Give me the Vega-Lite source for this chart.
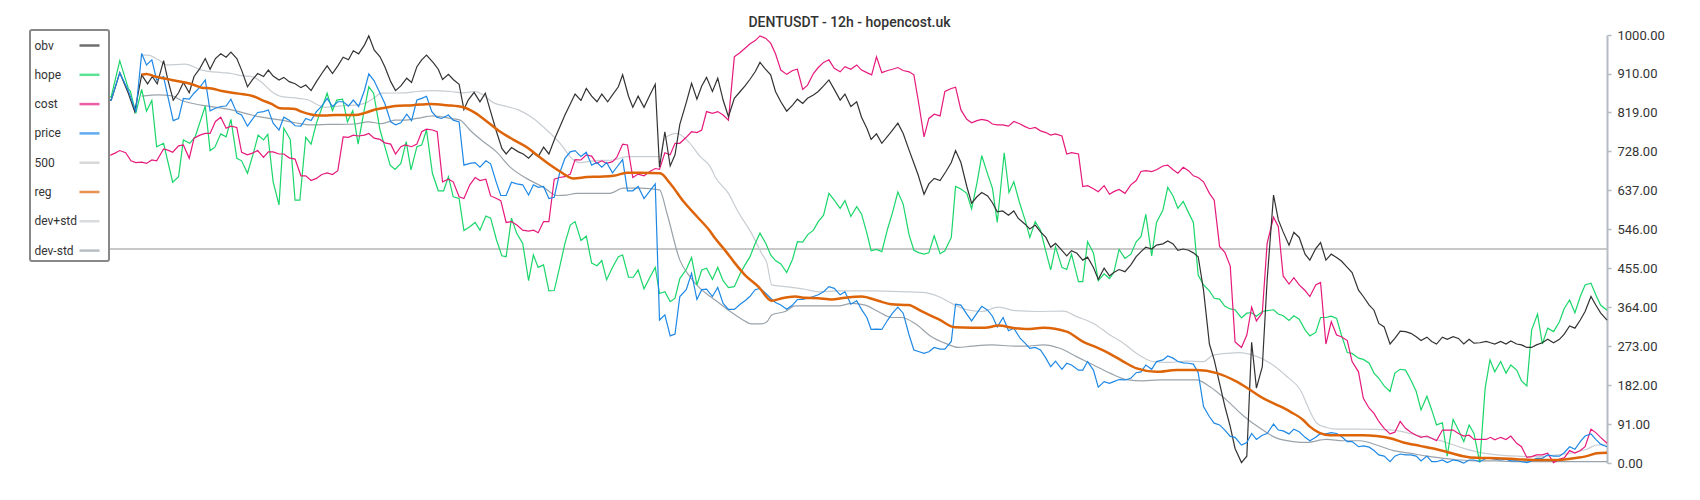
{
  "$schema": "https://vega.github.io/schema/vega-lite/v6.json",
  "autosize": {"type": "none"},
  "width": 1507,
  "height": 428,
  "padding": {"left": 100, "top": 35, "right": 93, "bottom": 37},
  "background": "white",
  "title": {"text": "DENTUSDT - 12h - hopencost.uk", "font": "Roboto", "fontSize": 14, "fontWeight": 500, "color": "#333333", "anchor": "middle", "frame": "group", "baseline": "alphabetic", "offset": 10, "dx": -4, "dy": 22},
  "config": {
    "view": {"stroke": null},
    "legend": {"orient": "none", "legendX": -70, "legendY": -5, "title": null, "fillColor": "white", "strokeColor": "#888888", "strokeWidth": 2, "cornerRadius": 2, "padding": 4, "labelFont": "Roboto", "labelFontSize": 12, "labelColor": "#333333", "symbolType": "stroke", "symbolStrokeWidth": 2.5, "symbolSize": 400, "symbolOpacity": 0.7, "rowPadding": 11.3, "labelOffset": -66.5, "symbolOffset": 44}
  },
  "datasets": {
    "c500": [{"t": 0, "v": 500}, {"t": 282, "v": 500}],
    "obv": [{"t":0,"v":850},{"t":2.1,"v":848},{"t":3.7,"v":912},{"t":5.3,"v":864},{"t":6.5,"v":821},{"t":7.8,"v":907},{"t":8.9,"v":886},{"t":9.8,"v":903},{"t":10.7,"v":886},{"t":11.9,"v":940},{"t":12.7,"v":895},{"t":13.7,"v":848},{"t":14.7,"v":865},{"t":15.6,"v":889},{"t":16.7,"v":865},{"t":17.6,"v":903},{"t":18.7,"v":922},{"t":19.7,"v":945},{"t":20.6,"v":920},{"t":21.6,"v":945},{"t":22.6,"v":956},{"t":23.6,"v":948},{"t":24.5,"v":960},{"t":25.6,"v":945},{"t":26.5,"v":918},{"t":27.6,"v":879},{"t":28.5,"v":895},{"t":29.5,"v":910},{"t":30.6,"v":903},{"t":31.5,"v":918},{"t":32.4,"v":904},{"t":33.5,"v":895},{"t":34.4,"v":901},{"t":35.4,"v":891},{"t":36.5,"v":886},{"t":37.6,"v":877},{"t":38.5,"v":883},{"t":39.5,"v":870},{"t":40.5,"v":891},{"t":41.5,"v":910},{"t":42.5,"v":928},{"t":43.5,"v":910},{"t":44.5,"v":928},{"t":45.5,"v":948},{"t":46.5,"v":942},{"t":47.4,"v":963},{"t":48.4,"v":956},{"t":49.5,"v":977},{"t":50.3,"v":998},{"t":51.3,"v":965},{"t":52.4,"v":949},{"t":53.3,"v":926},{"t":54.4,"v":891},{"t":55.3,"v":870},{"t":56.3,"v":881},{"t":57.4,"v":899},{"t":58.3,"v":889},{"t":59.3,"v":926},{"t":60.2,"v":942},{"t":61.1,"v":953},{"t":62.4,"v":935},{"t":63.3,"v":920},{"t":64.1,"v":896},{"t":65.2,"v":908},{"t":66.1,"v":896},{"t":67.2,"v":885},{"t":68.1,"v":826},{"t":68.9,"v":848},{"t":70,"v":866},{"t":71.1,"v":844},{"t":72.1,"v":864},{"t":73,"v":825},{"t":74.2,"v":774},{"t":75.2,"v":735},{"t":76,"v":722},{"t":77,"v":737},{"t":78.3,"v":727},{"t":79.2,"v":722},{"t":80.2,"v":712},{"t":81.1,"v":724},{"t":82,"v":716},{"t":83,"v":738},{"t":84,"v":722},{"t":85.2,"v":761},{"t":86.1,"v":787},{"t":87,"v":813},{"t":88,"v":839},{"t":88.9,"v":862},{"t":90,"v":847},{"t":91,"v":875},{"t":92,"v":857},{"t":93,"v":844},{"t":93.9,"v":862},{"t":95,"v":844},{"t":95.9,"v":860},{"t":97,"v":879},{"t":97.8,"v":907},{"t":98.9,"v":857},{"t":99.7,"v":831},{"t":100.7,"v":857},{"t":101.8,"v":831},{"t":102.9,"v":860},{"t":103.9,"v":885},{"t":104.7,"v":691},{"t":105.7,"v":774},{"t":106.7,"v":694},{"t":107.6,"v":720},{"t":108.5,"v":791},{"t":109.7,"v":842},{"t":110.7,"v":887},{"t":111.7,"v":850},{"t":112.6,"v":881},{"t":113.5,"v":901},{"t":114.6,"v":868},{"t":115.6,"v":899},{"t":116.6,"v":848},{"t":117.6,"v":809},{"t":118.7,"v":852},{"t":119.8,"v":868},{"t":120.7,"v":881},{"t":121.6,"v":896},{"t":122.6,"v":914},{"t":123.5,"v":936},{"t":124.4,"v":922},{"t":125.5,"v":907},{"t":126.4,"v":868},{"t":127.4,"v":844},{"t":128.5,"v":822},{"t":129.6,"v":836},{"t":130.5,"v":850},{"t":131.5,"v":840},{"t":132.4,"v":852},{"t":133.5,"v":860},{"t":134.4,"v":868},{"t":135.4,"v":881},{"t":136.4,"v":895},{"t":137.4,"v":873},{"t":138.5,"v":848},{"t":139.4,"v":862},{"t":140.5,"v":833},{"t":141.6,"v":844},{"t":142.5,"v":808},{"t":143.5,"v":782},{"t":144.3,"v":756},{"t":145.3,"v":769},{"t":146.3,"v":747},{"t":147.4,"v":764},{"t":148.3,"v":778},{"t":149.3,"v":794},{"t":150.3,"v":770},{"t":151.4,"v":731},{"t":152.2,"v":704},{"t":153.1,"v":673},{"t":154.2,"v":628},{"t":155.1,"v":652},{"t":156.1,"v":665},{"t":157.2,"v":660},{"t":158.3,"v":681},{"t":159.3,"v":702},{"t":160.1,"v":730},{"t":161.1,"v":702},{"t":162.2,"v":646},{"t":163.1,"v":607},{"t":164.1,"v":622},{"t":165,"v":632},{"t":166.1,"v":624},{"t":167,"v":608},{"t":167.9,"v":587},{"t":168.9,"v":589},{"t":170,"v":579},{"t":171,"v":589},{"t":171.8,"v":572},{"t":173.1,"v":558},{"t":174,"v":547},{"t":175,"v":556},{"t":176,"v":540},{"t":177,"v":527},{"t":177.9,"v":504},{"t":178.8,"v":513},{"t":180,"v":497},{"t":180.9,"v":484},{"t":181.8,"v":496},{"t":182.8,"v":490},{"t":183.9,"v":474},{"t":184.8,"v":481},{"t":185.9,"v":457},{"t":186.8,"v":429},{"t":187.9,"v":455},{"t":188.9,"v":437},{"t":189.7,"v":445},{"t":190.7,"v":452},{"t":191.8,"v":447},{"t":192.9,"v":463},{"t":193.9,"v":482},{"t":194.8,"v":494},{"t":195.7,"v":504},{"t":196.8,"v":500},{"t":197.7,"v":509},{"t":198.9,"v":512},{"t":199.8,"v":519},{"t":200.8,"v":512},{"t":201.7,"v":497},{"t":202.7,"v":500},{"t":203.7,"v":497},{"t":204.6,"v":491},{"t":205.5,"v":482},{"t":206.5,"v":404},{"t":207.6,"v":278},{"t":208.5,"v":241},{"t":209.5,"v":186},{"t":210.5,"v":132},{"t":211.5,"v":85},{"t":212.4,"v":34},{"t":213.6,"v":1},{"t":214.6,"v":16},{"t":215.5,"v":282},{"t":216.4,"v":175},{"t":217.5,"v":225},{"t":218.4,"v":427},{"t":219.6,"v":626},{"t":220.5,"v":568},{"t":221.4,"v":540},{"t":222.5,"v":509},{"t":223.4,"v":539},{"t":224.4,"v":527},{"t":225.5,"v":488},{"t":226.4,"v":474},{"t":227.5,"v":501},{"t":228.4,"v":515},{"t":229.4,"v":474},{"t":230.4,"v":488},{"t":231.4,"v":480},{"t":232.3,"v":472},{"t":233.4,"v":457},{"t":234.3,"v":445},{"t":235.5,"v":404},{"t":236.4,"v":389},{"t":237.5,"v":369},{"t":238.4,"v":357},{"t":239.3,"v":326},{"t":240.3,"v":318},{"t":241.4,"v":278},{"t":242.3,"v":291},{"t":243.3,"v":308},{"t":244.3,"v":307},{"t":245.3,"v":303},{"t":246.3,"v":295},{"t":247.2,"v":286},{"t":248.3,"v":294},{"t":249.2,"v":284},{"t":250.1,"v":278},{"t":251.2,"v":294},{"t":252.1,"v":289},{"t":253.2,"v":295},{"t":254.2,"v":291},{"t":255.2,"v":278},{"t":256.2,"v":289},{"t":257.1,"v":280},{"t":258.2,"v":281},{"t":259.4,"v":284},{"t":260.2,"v":281},{"t":261,"v":278},{"t":262.1,"v":284},{"t":263.1,"v":278},{"t":264,"v":285},{"t":265.1,"v":278},{"t":266,"v":276},{"t":267,"v":270},{"t":267.9,"v":270},{"t":268.8,"v":276},{"t":269.9,"v":281},{"t":270.9,"v":289},{"t":272,"v":281},{"t":273.1,"v":289},{"t":274,"v":301},{"t":275,"v":320},{"t":276,"v":315},{"t":277,"v":334},{"t":277.9,"v":354},{"t":279,"v":389},{"t":279.9,"v":369},{"t":280.8,"v":351},{"t":282,"v":334}],
    "hope": [{"t":0,"v":850},{"t":2.1,"v":856},{"t":3.7,"v":940},{"t":5.3,"v":875},{"t":5.7,"v":868},{"t":6.7,"v":817},{"t":7.8,"v":873},{"t":8.7,"v":822},{"t":9.7,"v":847},{"t":10.6,"v":739},{"t":11.9,"v":747},{"t":13.6,"v":656},{"t":14.7,"v":669},{"t":15.6,"v":755},{"t":16.8,"v":747},{"t":17.8,"v":762},{"t":19.7,"v":834},{"t":20.6,"v":730},{"t":21.5,"v":738},{"t":22.6,"v":769},{"t":23.6,"v":762},{"t":24.5,"v":803},{"t":25.6,"v":712},{"t":26.5,"v":706},{"t":27.6,"v":677},{"t":28.7,"v":724},{"t":29.6,"v":766},{"t":30.6,"v":755},{"t":31.4,"v":768},{"t":32.4,"v":657},{"t":33.5,"v":603},{"t":34.4,"v":782},{"t":35.6,"v":756},{"t":36.5,"v":614},{"t":37.4,"v":614},{"t":38.5,"v":761},{"t":39.5,"v":745},{"t":40.5,"v":794},{"t":42.5,"v":864},{"t":43.5,"v":823},{"t":44.3,"v":848},{"t":45.4,"v":850},{"t":46.3,"v":797},{"t":47.3,"v":823},{"t":48.3,"v":745},{"t":49.3,"v":815},{"t":50.3,"v":879},{"t":51.2,"v":864},{"t":52.4,"v":778},{"t":53.3,"v":739},{"t":54.3,"v":696},{"t":55.2,"v":686},{"t":56.3,"v":700},{"t":57.3,"v":751},{"t":58.2,"v":685},{"t":59.3,"v":739},{"t":60.2,"v":743},{"t":61.1,"v":778},{"t":62.2,"v":677},{"t":63.3,"v":636},{"t":64.3,"v":636},{"t":65.2,"v":669},{"t":66.1,"v":622},{"t":67.2,"v":618},{"t":68.1,"v":543},{"t":69.2,"v":552},{"t":70.2,"v":562},{"t":71.1,"v":544},{"t":72.2,"v":577},{"t":73.1,"v":572},{"t":74.2,"v":521},{"t":75.2,"v":484},{"t":76,"v":482},{"t":77,"v":572},{"t":78,"v":536},{"t":79.1,"v":513},{"t":80.2,"v":426},{"t":81.1,"v":486},{"t":82,"v":457},{"t":83,"v":463},{"t":84,"v":402},{"t":85,"v":403},{"t":86,"v":457},{"t":87,"v":513},{"t":88,"v":556},{"t":88.9,"v":564},{"t":90,"v":520},{"t":91,"v":530},{"t":92,"v":467},{"t":93,"v":461},{"t":93.9,"v":473},{"t":94.8,"v":428},{"t":95.9,"v":457},{"t":97,"v":482},{"t":97.8,"v":486},{"t":98.9,"v":434},{"t":99.8,"v":434},{"t":100.7,"v":451},{"t":101.8,"v":407},{"t":102.9,"v":434},{"t":103.9,"v":457},{"t":104.7,"v":396},{"t":105.7,"v":400},{"t":106.7,"v":377},{"t":107.6,"v":385},{"t":108.5,"v":431},{"t":109.7,"v":452},{"t":110.7,"v":480},{"t":111.7,"v":416},{"t":112.6,"v":451},{"t":113.5,"v":455},{"t":114.6,"v":429},{"t":115.6,"v":457},{"t":116.6,"v":426},{"t":117.6,"v":410},{"t":118.7,"v":412},{"t":119.8,"v":443},{"t":120.7,"v":463},{"t":121.6,"v":481},{"t":122.6,"v":513},{"t":123.5,"v":537},{"t":124.6,"v":513},{"t":125.5,"v":486},{"t":126.4,"v":473},{"t":127.4,"v":465},{"t":128.5,"v":445},{"t":129.6,"v":476},{"t":130.5,"v":517},{"t":131.5,"v":516},{"t":132.4,"v":533},{"t":133.5,"v":544},{"t":134.4,"v":564},{"t":135.4,"v":579},{"t":136.4,"v":630},{"t":137.4,"v":614},{"t":138.5,"v":595},{"t":139.4,"v":613},{"t":140.5,"v":576},{"t":141.6,"v":599},{"t":142.5,"v":582},{"t":143.5,"v":537},{"t":144.3,"v":496},{"t":145.3,"v":499},{"t":146.3,"v":494},{"t":147.4,"v":548},{"t":148.3,"v":585},{"t":149.3,"v":633},{"t":150.3,"v":605},{"t":151.4,"v":533},{"t":152.3,"v":497},{"t":153.3,"v":491},{"t":154.2,"v":488},{"t":155.1,"v":491},{"t":156.1,"v":531},{"t":157.2,"v":489},{"t":158.1,"v":496},{"t":159.3,"v":527},{"t":160.1,"v":646},{"t":161.1,"v":640},{"t":162.2,"v":630},{"t":163.1,"v":594},{"t":164.1,"v":654},{"t":165,"v":718},{"t":166.1,"v":675},{"t":167,"v":642},{"t":167.9,"v":562},{"t":169.2,"v":725},{"t":170.1,"v":632},{"t":171,"v":657},{"t":172.1,"v":607},{"t":173.1,"v":568},{"t":174,"v":527},{"t":175,"v":564},{"t":176,"v":544},{"t":177,"v":494},{"t":177.9,"v":451},{"t":178.8,"v":505},{"t":180,"v":457},{"t":180.9,"v":452},{"t":181.8,"v":488},{"t":183.1,"v":424},{"t":183.9,"v":424},{"t":184.8,"v":517},{"t":185.9,"v":491},{"t":186.8,"v":426},{"t":187.9,"v":442},{"t":188.9,"v":431},{"t":189.7,"v":445},{"t":190.7,"v":499},{"t":191.8,"v":478},{"t":192.9,"v":488},{"t":193.9,"v":517},{"t":194.8,"v":529},{"t":195.7,"v":581},{"t":196.8,"v":484},{"t":197.7,"v":562},{"t":198.9,"v":591},{"t":199.8,"v":644},{"t":200.8,"v":624},{"t":201.7,"v":595},{"t":202.7,"v":611},{"t":203.7,"v":585},{"t":204.6,"v":562},{"t":205.5,"v":439},{"t":206.5,"v":416},{"t":207.6,"v":402},{"t":208.5,"v":385},{"t":209.5,"v":383},{"t":210.5,"v":366},{"t":211.5,"v":360},{"t":212.4,"v":358},{"t":213.6,"v":339},{"t":214.6,"v":350},{"t":215.5,"v":351},{"t":216.4,"v":343},{"t":217.5,"v":354},{"t":218.4,"v":356},{"t":219.6,"v":358},{"t":220.5,"v":348},{"t":221.4,"v":344},{"t":222.5,"v":333},{"t":223.4,"v":344},{"t":224.4,"v":336},{"t":225.5,"v":311},{"t":226.4,"v":297},{"t":227.5,"v":305},{"t":228.4,"v":340},{"t":229.4,"v":340},{"t":230.4,"v":343},{"t":231.4,"v":338},{"t":232.3,"v":299},{"t":233.4,"v":258},{"t":234.3,"v":256},{"t":235.5,"v":245},{"t":236.4,"v":242},{"t":237.5,"v":233},{"t":238.4,"v":210},{"t":239.3,"v":198},{"t":240.3,"v":180},{"t":241.4,"v":167},{"t":242.3,"v":210},{"t":243.3,"v":219},{"t":244.3,"v":217},{"t":245.3,"v":194},{"t":246.3,"v":167},{"t":247.2,"v":124},{"t":248.3,"v":156},{"t":249.2,"v":124},{"t":250.1,"v":89},{"t":251.2,"v":94},{"t":252.1,"v":16},{"t":253.2,"v":102},{"t":254.2,"v":77},{"t":255.2,"v":50},{"t":256.2,"v":89},{"t":257.1,"v":69},{"t":258.2,"v":1},{"t":259.2,"v":175},{"t":260.1,"v":241},{"t":261,"v":213},{"t":262.1,"v":237},{"t":263.1,"v":210},{"t":264,"v":229},{"t":265.1,"v":217},{"t":266,"v":192},{"t":267,"v":180},{"t":267.9,"v":311},{"t":269,"v":348},{"t":269.9,"v":278},{"t":270.9,"v":315},{"t":272,"v":307},{"t":273.1,"v":330},{"t":274,"v":361},{"t":275,"v":381},{"t":276,"v":351},{"t":277,"v":389},{"t":277.9,"v":416},{"t":279,"v":420},{"t":279.9,"v":393},{"t":280.8,"v":369},{"t":282,"v":357}],
    "cost": [{"t":0,"v":718},{"t":2.1,"v":720},{"t":2.8,"v":724},{"t":3.7,"v":730},{"t":4.8,"v":725},{"t":5.8,"v":706},{"t":6.7,"v":702},{"t":7.8,"v":703},{"t":8.7,"v":700},{"t":9.7,"v":708},{"t":10.6,"v":706},{"t":11.9,"v":734},{"t":12.7,"v":731},{"t":13.6,"v":726},{"t":14.7,"v":741},{"t":15.6,"v":743},{"t":16.7,"v":712},{"t":17.6,"v":759},{"t":18.7,"v":766},{"t":19.7,"v":770},{"t":20.6,"v":770},{"t":21.6,"v":798},{"t":22.6,"v":808},{"t":23.6,"v":782},{"t":24.5,"v":787},{"t":25.6,"v":784},{"t":26.5,"v":726},{"t":27.6,"v":720},{"t":28.5,"v":724},{"t":29.5,"v":730},{"t":30.6,"v":714},{"t":31.5,"v":727},{"t":32.4,"v":727},{"t":33.5,"v":722},{"t":34.4,"v":722},{"t":35.4,"v":713},{"t":36.5,"v":710},{"t":37.6,"v":671},{"t":38.5,"v":671},{"t":39.5,"v":660},{"t":40.5,"v":665},{"t":41.5,"v":674},{"t":42.5,"v":678},{"t":43.5,"v":674},{"t":44.5,"v":683},{"t":45.5,"v":762},{"t":46.5,"v":761},{"t":47.4,"v":766},{"t":48.4,"v":764},{"t":49.5,"v":766},{"t":50.3,"v":770},{"t":51.3,"v":759},{"t":52.4,"v":756},{"t":53.3,"v":748},{"t":54.4,"v":745},{"t":55.3,"v":722},{"t":56.3,"v":739},{"t":57.1,"v":743},{"t":58.3,"v":739},{"t":59.3,"v":745},{"t":60.2,"v":774},{"t":61.1,"v":780},{"t":62.2,"v":778},{"t":63.1,"v":774},{"t":64.1,"v":657},{"t":65.2,"v":663},{"t":66.1,"v":657},{"t":67.2,"v":622},{"t":68.1,"v":618},{"t":69.2,"v":650},{"t":70.2,"v":667},{"t":71.1,"v":660},{"t":72.2,"v":663},{"t":73.1,"v":624},{"t":74.2,"v":618},{"t":75,"v":613},{"t":76,"v":562},{"t":77,"v":564},{"t":78,"v":556},{"t":79.1,"v":544},{"t":80.2,"v":542},{"t":81.1,"v":544},{"t":82,"v":538},{"t":83,"v":564},{"t":84,"v":564},{"t":85,"v":663},{"t":86,"v":667},{"t":87,"v":669},{"t":88,"v":675},{"t":88.9,"v":709},{"t":90,"v":708},{"t":91,"v":720},{"t":92,"v":717},{"t":92.9,"v":700},{"t":93.9,"v":706},{"t":94.8,"v":700},{"t":95.9,"v":704},{"t":96.7,"v":714},{"t":97.8,"v":745},{"t":98.7,"v":743},{"t":99.7,"v":667},{"t":100.7,"v":675},{"t":101.8,"v":671},{"t":102.9,"v":681},{"t":103.9,"v":688},{"t":104.7,"v":686},{"t":105.7,"v":725},{"t":106.7,"v":720},{"t":107.6,"v":747},{"t":108.5,"v":747},{"t":109.7,"v":761},{"t":110.7,"v":774},{"t":111.7,"v":772},{"t":112.6,"v":778},{"t":113.5,"v":821},{"t":114.6,"v":817},{"t":115.6,"v":821},{"t":116.6,"v":813},{"t":117.6,"v":801},{"t":118.7,"v":949},{"t":119.8,"v":959},{"t":120.7,"v":969},{"t":121.6,"v":979},{"t":122.6,"v":987},{"t":123.5,"v":998},{"t":124.6,"v":992},{"t":125.5,"v":981},{"t":126.4,"v":956},{"t":127.4,"v":918},{"t":128.5,"v":908},{"t":129.6,"v":917},{"t":130.5,"v":920},{"t":131.5,"v":873},{"t":132.4,"v":883},{"t":133.5,"v":910},{"t":134.4,"v":924},{"t":135.4,"v":936},{"t":136.4,"v":942},{"t":137.4,"v":922},{"t":138.5,"v":914},{"t":139.4,"v":926},{"t":140.5,"v":920},{"t":141.6,"v":930},{"t":142.5,"v":918},{"t":143.5,"v":912},{"t":144.4,"v":907},{"t":145.3,"v":949},{"t":146.3,"v":912},{"t":147.4,"v":917},{"t":148.3,"v":920},{"t":149.3,"v":924},{"t":150.3,"v":917},{"t":151.4,"v":914},{"t":152.3,"v":907},{"t":153.3,"v":833},{"t":154.2,"v":762},{"t":155.1,"v":805},{"t":156.1,"v":815},{"t":157.2,"v":811},{"t":158.1,"v":868},{"t":159.3,"v":875},{"t":160.1,"v":878},{"t":161.1,"v":825},{"t":162.2,"v":803},{"t":163.1,"v":795},{"t":164.1,"v":800},{"t":165,"v":803},{"t":166.1,"v":800},{"t":167,"v":792},{"t":167.9,"v":790},{"t":168.9,"v":790},{"t":170,"v":787},{"t":171,"v":798},{"t":172.2,"v":792},{"t":173.1,"v":786},{"t":174,"v":781},{"t":175,"v":784},{"t":176,"v":776},{"t":177,"v":772},{"t":177.9,"v":766},{"t":178.8,"v":769},{"t":180,"v":764},{"t":180.9,"v":722},{"t":181.8,"v":725},{"t":183.1,"v":722},{"t":183.9,"v":646},{"t":184.8,"v":648},{"t":185.9,"v":641},{"t":186.8,"v":634},{"t":187.9,"v":648},{"t":188.9,"v":628},{"t":189.7,"v":634},{"t":190.7,"v":639},{"t":191.8,"v":630},{"t":192.9,"v":650},{"t":193.9,"v":660},{"t":194.8,"v":681},{"t":195.7,"v":683},{"t":196.8,"v":681},{"t":197.7,"v":685},{"t":198.9,"v":694},{"t":199.8,"v":696},{"t":200.8,"v":685},{"t":201.7,"v":677},{"t":202.7,"v":691},{"t":203.7,"v":683},{"t":204.6,"v":671},{"t":205.5,"v":667},{"t":206.5,"v":657},{"t":207.6,"v":630},{"t":208.5,"v":614},{"t":209.5,"v":506},{"t":210.5,"v":492},{"t":211.5,"v":460},{"t":212.4,"v":283},{"t":213.6,"v":270},{"t":214.6,"v":299},{"t":215.5,"v":364},{"t":216.4,"v":332},{"t":217.5,"v":351},{"t":218.4,"v":513},{"t":219.6,"v":574},{"t":220.5,"v":552},{"t":221.4,"v":437},{"t":222.5,"v":418},{"t":223.4,"v":433},{"t":224.4,"v":416},{"t":225.5,"v":403},{"t":226.4,"v":389},{"t":227.5,"v":416},{"t":228.4,"v":422},{"t":229.4,"v":278},{"t":230.4,"v":330},{"t":231.4,"v":299},{"t":232.3,"v":295},{"t":233.4,"v":286},{"t":234.3,"v":237},{"t":235.5,"v":213},{"t":236.4,"v":151},{"t":237.5,"v":128},{"t":238.4,"v":116},{"t":239.3,"v":97},{"t":240.3,"v":81},{"t":241.4,"v":68},{"t":242.3,"v":72},{"t":243.3,"v":97},{"t":244.3,"v":81},{"t":245.3,"v":72},{"t":246.3,"v":65},{"t":247.2,"v":60},{"t":248.3,"v":63},{"t":249.2,"v":58},{"t":250.1,"v":52},{"t":251.2,"v":77},{"t":252.1,"v":77},{"t":253.2,"v":77},{"t":254.2,"v":69},{"t":255.2,"v":63},{"t":256.2,"v":65},{"t":257.1,"v":55},{"t":258.2,"v":55},{"t":259.4,"v":55},{"t":260.2,"v":60},{"t":261,"v":54},{"t":262.1,"v":60},{"t":263.1,"v":55},{"t":264,"v":63},{"t":265.1,"v":46},{"t":266,"v":38},{"t":267,"v":13},{"t":267.9,"v":15},{"t":268.8,"v":19},{"t":269.9,"v":19},{"t":270.9,"v":23},{"t":272,"v":1},{"t":273.1,"v":9},{"t":274,"v":12},{"t":275,"v":29},{"t":276,"v":23},{"t":277,"v":29},{"t":277.9,"v":38},{"t":279,"v":79},{"t":279.9,"v":71},{"t":280.8,"v":60},{"t":282,"v":46}],
    "price": [{"t":0,"v":850},{"t":2.1,"v":848},{"t":3.7,"v":912},{"t":5.3,"v":870},{"t":6.7,"v":821},{"t":7.8,"v":957},{"t":8.7,"v":930},{"t":9.7,"v":942},{"t":10.6,"v":895},{"t":11.9,"v":903},{"t":12.7,"v":856},{"t":13.7,"v":800},{"t":14.7,"v":805},{"t":15.6,"v":852},{"t":16.7,"v":850},{"t":17.6,"v":864},{"t":18.7,"v":878},{"t":19.7,"v":895},{"t":20.6,"v":823},{"t":21.6,"v":829},{"t":22.6,"v":833},{"t":23.6,"v":834},{"t":24.5,"v":850},{"t":25.6,"v":818},{"t":26.5,"v":813},{"t":27.6,"v":787},{"t":28.5,"v":803},{"t":29.5,"v":819},{"t":30.6,"v":821},{"t":31.5,"v":825},{"t":32.4,"v":794},{"t":33.5,"v":778},{"t":34.4,"v":808},{"t":35.4,"v":801},{"t":36.5,"v":788},{"t":37.6,"v":787},{"t":38.5,"v":805},{"t":39.5,"v":800},{"t":40.5,"v":821},{"t":41.5,"v":834},{"t":42.5,"v":852},{"t":43.5,"v":833},{"t":44.5,"v":844},{"t":45.5,"v":844},{"t":46.5,"v":834},{"t":47.4,"v":848},{"t":48.4,"v":833},{"t":49.5,"v":871},{"t":50.3,"v":909},{"t":51.3,"v":893},{"t":52.4,"v":864},{"t":53.3,"v":840},{"t":54.4,"v":797},{"t":55.3,"v":790},{"t":56.3,"v":795},{"t":57.4,"v":815},{"t":58.3,"v":800},{"t":59.3,"v":848},{"t":60.2,"v":852},{"t":61.1,"v":857},{"t":62.1,"v":821},{"t":63,"v":808},{"t":63.9,"v":805},{"t":65.2,"v":813},{"t":66.1,"v":801},{"t":67.2,"v":797},{"t":68.1,"v":696},{"t":69.2,"v":700},{"t":70.2,"v":702},{"t":71.1,"v":691},{"t":72.2,"v":706},{"t":73.1,"v":699},{"t":74.2,"v":654},{"t":75,"v":625},{"t":76,"v":625},{"t":77,"v":656},{"t":78,"v":652},{"t":79.1,"v":650},{"t":80.2,"v":626},{"t":81.1,"v":650},{"t":82,"v":644},{"t":83,"v":646},{"t":84,"v":618},{"t":85,"v":621},{"t":86,"v":677},{"t":87,"v":712},{"t":88,"v":727},{"t":88.9,"v":730},{"t":90,"v":716},{"t":91,"v":726},{"t":92,"v":696},{"t":93,"v":702},{"t":93.9,"v":691},{"t":94.8,"v":702},{"t":95.9,"v":678},{"t":96.7,"v":691},{"t":97.8,"v":709},{"t":98.7,"v":636},{"t":99.7,"v":636},{"t":100.7,"v":646},{"t":101.8,"v":618},{"t":102.9,"v":636},{"t":103.9,"v":652},{"t":104.7,"v":334},{"t":105.7,"v":346},{"t":106.7,"v":297},{"t":107.6,"v":301},{"t":108.5,"v":389},{"t":109.7,"v":405},{"t":110.7,"v":443},{"t":111.7,"v":382},{"t":112.6,"v":405},{"t":113.5,"v":406},{"t":114.6,"v":389},{"t":115.6,"v":410},{"t":116.6,"v":373},{"t":117.6,"v":359},{"t":118.7,"v":359},{"t":119.8,"v":371},{"t":120.7,"v":379},{"t":121.6,"v":389},{"t":122.6,"v":405},{"t":123.5,"v":408},{"t":124.6,"v":396},{"t":125.5,"v":385},{"t":126.4,"v":375},{"t":127.4,"v":369},{"t":128.5,"v":359},{"t":129.6,"v":369},{"t":130.5,"v":382},{"t":131.5,"v":382},{"t":132.4,"v":385},{"t":133.5,"v":389},{"t":134.4,"v":393},{"t":135.4,"v":400},{"t":136.4,"v":412},{"t":137.4,"v":408},{"t":138.5,"v":393},{"t":139.4,"v":400},{"t":140.5,"v":371},{"t":141.6,"v":379},{"t":142.5,"v":359},{"t":143.5,"v":340},{"t":144.3,"v":312},{"t":145.3,"v":313},{"t":146.3,"v":312},{"t":147.4,"v":334},{"t":148.3,"v":350},{"t":149.3,"v":364},{"t":150.3,"v":350},{"t":151.4,"v":299},{"t":152.3,"v":264},{"t":153.3,"v":260},{"t":154.2,"v":256},{"t":155.1,"v":260},{"t":156.1,"v":270},{"t":157.2,"v":266},{"t":158.1,"v":266},{"t":159.3,"v":284},{"t":160.1,"v":371},{"t":161.1,"v":369},{"t":162.2,"v":348},{"t":163.1,"v":332},{"t":164.1,"v":350},{"t":165,"v":366},{"t":166.1,"v":357},{"t":167,"v":343},{"t":167.9,"v":318},{"t":169,"v":340},{"t":170,"v":309},{"t":171,"v":315},{"t":172.2,"v":291},{"t":173.1,"v":280},{"t":174,"v":268},{"t":175,"v":270},{"t":176,"v":264},{"t":177,"v":245},{"t":177.9,"v":225},{"t":178.8,"v":238},{"t":180,"v":219},{"t":180.9,"v":233},{"t":181.8,"v":229},{"t":183.1,"v":217},{"t":183.9,"v":217},{"t":184.8,"v":237},{"t":185.9,"v":217},{"t":186.8,"v":177},{"t":187.9,"v":190},{"t":188.9,"v":186},{"t":189.7,"v":190},{"t":190.7,"v":195},{"t":191.8,"v":194},{"t":192.9,"v":198},{"t":193.9,"v":211},{"t":194.8,"v":213},{"t":195.7,"v":229},{"t":196.8,"v":219},{"t":197.7,"v":237},{"t":198.9,"v":241},{"t":199.8,"v":250},{"t":200.8,"v":245},{"t":201.7,"v":237},{"t":202.7,"v":234},{"t":203.7,"v":233},{"t":204.6,"v":231},{"t":205.5,"v":211},{"t":206.5,"v":132},{"t":207.6,"v":108},{"t":208.5,"v":93},{"t":209.5,"v":89},{"t":210.5,"v":77},{"t":211.5,"v":62},{"t":212.4,"v":60},{"t":213.6,"v":42},{"t":214.6,"v":48},{"t":215.5,"v":69},{"t":216.4,"v":55},{"t":217.5,"v":65},{"t":218.4,"v":69},{"t":219.6,"v":91},{"t":220.5,"v":77},{"t":221.4,"v":75},{"t":222.5,"v":68},{"t":223.4,"v":79},{"t":224.4,"v":73},{"t":225.5,"v":60},{"t":226.4,"v":52},{"t":227.5,"v":60},{"t":228.4,"v":69},{"t":229.4,"v":68},{"t":230.4,"v":71},{"t":231.4,"v":69},{"t":232.3,"v":62},{"t":233.4,"v":50},{"t":234.3,"v":50},{"t":235.5,"v":38},{"t":236.4,"v":40},{"t":237.5,"v":37},{"t":238.4,"v":29},{"t":239.3,"v":19},{"t":240.3,"v":16},{"t":241.4,"v":3},{"t":242.3,"v":16},{"t":243.3,"v":21},{"t":244.3,"v":19},{"t":245.3,"v":19},{"t":246.3,"v":16},{"t":247.2,"v":5},{"t":248.3,"v":16},{"t":249.2,"v":3},{"t":250.1,"v":3},{"t":251.2,"v":7},{"t":252.1,"v":1},{"t":253.2,"v":7},{"t":254.2,"v":5},{"t":255.2,"v":0},{"t":256.2,"v":7},{"t":257.1,"v":7},{"t":258.2,"v":3},{"t":259.4,"v":11},{"t":260.2,"v":11},{"t":261,"v":9},{"t":262.1,"v":7},{"t":263.1,"v":9},{"t":264,"v":5},{"t":265.1,"v":5},{"t":266,"v":3},{"t":267,"v":1},{"t":267.9,"v":5},{"t":268.8,"v":11},{"t":269.9,"v":11},{"t":270.9,"v":19},{"t":272,"v":16},{"t":273.1,"v":16},{"t":274,"v":24},{"t":275,"v":38},{"t":276,"v":32},{"t":277,"v":50},{"t":277.9,"v":63},{"t":279,"v":68},{"t":279.9,"v":55},{"t":280.8,"v":44},{"t":282,"v":38}],
    "reg": [{"t":7.8,"v":907},{"t":8.7,"v":909},{"t":10.3,"v":903},{"t":13.4,"v":895},{"t":17.2,"v":885},{"t":19,"v":877},{"t":20.9,"v":875},{"t":22.8,"v":869},{"t":25.9,"v":863},{"t":28.7,"v":857},{"t":30.3,"v":848},{"t":32.1,"v":839},{"t":33.7,"v":829},{"t":36.5,"v":827},{"t":37.7,"v":821},{"t":40.9,"v":812},{"t":42.1,"v":812},{"t":44,"v":813},{"t":47.7,"v":813},{"t":49.6,"v":818},{"t":51.5,"v":826},{"t":53.3,"v":830},{"t":55.2,"v":834},{"t":58.6,"v":836},{"t":61.8,"v":839},{"t":64.9,"v":836},{"t":68,"v":831},{"t":70.2,"v":818},{"t":72.4,"v":798},{"t":74.9,"v":774},{"t":77.4,"v":755},{"t":80.2,"v":735},{"t":81.7,"v":720},{"t":83.6,"v":702},{"t":86.1,"v":681},{"t":88.6,"v":665},{"t":91.1,"v":668},{"t":93.6,"v":669},{"t":96.1,"v":671},{"t":98.6,"v":678},{"t":101.1,"v":678},{"t":104.8,"v":677},{"t":106.7,"v":653},{"t":109.2,"v":611},{"t":111.7,"v":576},{"t":114.2,"v":541},{"t":115.1,"v":525},{"t":116.9,"v":498},{"t":118.8,"v":467},{"t":120.7,"v":439},{"t":123.2,"v":412},{"t":125.7,"v":379},{"t":127.6,"v":385},{"t":130.1,"v":389},{"t":131.9,"v":386},{"t":134.4,"v":385},{"t":136.9,"v":382},{"t":139.4,"v":386},{"t":142.5,"v":389},{"t":145.6,"v":379},{"t":148.1,"v":371},{"t":151.3,"v":369},{"t":153.8,"v":354},{"t":156.9,"v":336},{"t":160,"v":317},{"t":163.1,"v":316},{"t":165.6,"v":316},{"t":168.1,"v":321},{"t":171.2,"v":315},{"t":173.4,"v":313},{"t":176.5,"v":316},{"t":180.9,"v":307},{"t":184,"v":283},{"t":186.5,"v":270},{"t":189,"v":255},{"t":191.5,"v":237},{"t":194,"v":221},{"t":197.7,"v":213},{"t":201.5,"v":217},{"t":205.2,"v":217},{"t":209,"v":210},{"t":212.7,"v":190},{"t":215.2,"v":171},{"t":217.7,"v":151},{"t":220.2,"v":136},{"t":222.7,"v":120},{"t":225.2,"v":100},{"t":226.4,"v":85},{"t":228.3,"v":70},{"t":230.2,"v":65},{"t":232.7,"v":65},{"t":236.4,"v":65},{"t":238.9,"v":63},{"t":241.4,"v":58},{"t":243.9,"v":48},{"t":247,"v":40},{"t":250.1,"v":32},{"t":252.6,"v":24},{"t":255.1,"v":16},{"t":257.6,"v":12},{"t":261.4,"v":11},{"t":265.1,"v":9},{"t":268.8,"v":7},{"t":272.6,"v":7},{"t":275.7,"v":11},{"t":278.2,"v":16},{"t":280.1,"v":23},{"t":282,"v":24}],
    "devp": [{"t":7.8,"v":953},{"t":9,"v":953},{"t":10.9,"v":942},{"t":12.5,"v":930},{"t":15.9,"v":932},{"t":19,"v":918},{"t":22.8,"v":912},{"t":24.6,"v":910},{"t":26.5,"v":905},{"t":28.4,"v":903},{"t":30.3,"v":889},{"t":32.1,"v":868},{"t":34,"v":856},{"t":37.1,"v":852},{"t":39,"v":848},{"t":40.9,"v":836},{"t":42.1,"v":831},{"t":44.6,"v":834},{"t":47.7,"v":836},{"t":49.9,"v":842},{"t":51.2,"v":852},{"t":52.7,"v":864},{"t":57.1,"v":865},{"t":59.3,"v":868},{"t":62.4,"v":870},{"t":65.5,"v":868},{"t":68,"v":865},{"t":70.2,"v":868},{"t":71.7,"v":860},{"t":73.6,"v":842},{"t":76.1,"v":833},{"t":78.3,"v":825},{"t":81.1,"v":805},{"t":83.6,"v":778},{"t":86.1,"v":747},{"t":88.6,"v":708},{"t":89.8,"v":702},{"t":92.3,"v":706},{"t":96.1,"v":708},{"t":98.6,"v":716},{"t":104.7,"v":716},{"t":105.7,"v":759},{"t":107.9,"v":770},{"t":109.8,"v":755},{"t":112.3,"v":716},{"t":114.2,"v":692},{"t":115.1,"v":669},{"t":117.6,"v":630},{"t":119.4,"v":587},{"t":121.9,"v":537},{"t":123.8,"v":490},{"t":124.8,"v":467},{"t":125.7,"v":416},{"t":128.2,"v":412},{"t":131.9,"v":406},{"t":134.4,"v":400},{"t":138.2,"v":402},{"t":144.4,"v":402},{"t":150.6,"v":400},{"t":154.4,"v":398},{"t":156.9,"v":389},{"t":159.4,"v":373},{"t":161.9,"v":359},{"t":165,"v":354},{"t":168.1,"v":364},{"t":171.2,"v":356},{"t":175.3,"v":354},{"t":180.3,"v":355},{"t":182.8,"v":342},{"t":185.9,"v":326},{"t":189,"v":299},{"t":191.5,"v":280},{"t":194,"v":256},{"t":197.1,"v":237},{"t":200.2,"v":235},{"t":203.3,"v":238},{"t":206.5,"v":237},{"t":208.3,"v":252},{"t":210.8,"v":256},{"t":213.3,"v":258},{"t":215.8,"v":252},{"t":219,"v":233},{"t":222.1,"v":202},{"t":224.6,"v":171},{"t":226.6,"v":116},{"t":227.7,"v":93},{"t":229.5,"v":83},{"t":231.4,"v":79},{"t":235.8,"v":79},{"t":242,"v":77},{"t":245.1,"v":69},{"t":248.3,"v":60},{"t":251.4,"v":50},{"t":254.5,"v":37},{"t":257.6,"v":26},{"t":261.4,"v":19},{"t":265.1,"v":16},{"t":268.8,"v":15},{"t":272.6,"v":19},{"t":275.7,"v":24},{"t":278.2,"v":32},{"t":280.1,"v":42},{"t":282,"v":42}],
    "devm": [{"t":7.8,"v":857},{"t":10.9,"v":860},{"t":13.4,"v":858},{"t":15.3,"v":847},{"t":19,"v":836},{"t":22.8,"v":829},{"t":24.6,"v":825},{"t":28.4,"v":813},{"t":30.3,"v":808},{"t":34,"v":801},{"t":36.5,"v":795},{"t":39.6,"v":790},{"t":42.7,"v":791},{"t":47.7,"v":792},{"t":50.2,"v":797},{"t":52.7,"v":793},{"t":55.2,"v":801},{"t":57.1,"v":801},{"t":59.3,"v":805},{"t":62.4,"v":811},{"t":65.5,"v":805},{"t":67.4,"v":801},{"t":69.2,"v":778},{"t":71.7,"v":751},{"t":74.2,"v":727},{"t":76.7,"v":692},{"t":79.8,"v":665},{"t":83,"v":644},{"t":85.5,"v":625},{"t":87.3,"v":626},{"t":89.2,"v":630},{"t":92.3,"v":630},{"t":95.4,"v":630},{"t":97.9,"v":642},{"t":101.1,"v":642},{"t":104.7,"v":638},{"t":106.1,"v":583},{"t":108.5,"v":474},{"t":110.4,"v":435},{"t":112.3,"v":408},{"t":114.2,"v":389},{"t":115.1,"v":381},{"t":117.6,"v":357},{"t":120.1,"v":336},{"t":121.9,"v":325},{"t":123.8,"v":325},{"t":124.8,"v":330},{"t":125.7,"v":346},{"t":128.2,"v":354},{"t":130.1,"v":367},{"t":133.2,"v":367},{"t":138.2,"v":367},{"t":140.7,"v":373},{"t":143.2,"v":369},{"t":145.6,"v":354},{"t":148.1,"v":340},{"t":150,"v":340},{"t":152.5,"v":326},{"t":155.6,"v":295},{"t":158.1,"v":280},{"t":160.6,"v":270},{"t":163.1,"v":273},{"t":166.9,"v":276},{"t":171.2,"v":273},{"t":173.4,"v":273},{"t":176.5,"v":276},{"t":179.6,"v":268},{"t":182.8,"v":248},{"t":185.9,"v":229},{"t":189,"v":210},{"t":192.1,"v":195},{"t":195.2,"v":192},{"t":198.3,"v":194},{"t":201.5,"v":194},{"t":205.2,"v":194},{"t":207.7,"v":178},{"t":210.8,"v":147},{"t":214,"v":110},{"t":217.1,"v":81},{"t":220.2,"v":58},{"t":223.3,"v":50},{"t":225.8,"v":48},{"t":229.5,"v":55},{"t":232.7,"v":52},{"t":235.8,"v":52},{"t":238.9,"v":42},{"t":242,"v":29},{"t":245.1,"v":23},{"t":248.3,"v":16},{"t":251.4,"v":11},{"t":254.5,"v":7},{"t":257.6,"v":5},{"t":261.4,"v":5},{"t":265.1,"v":3},{"t":282,"v":3}]
  },
  "encoding": {
    "x": {"field": "t", "type": "quantitative", "scale": {"domain": [0, 282], "nice": false, "zero": false}, "axis": null},
    "y": {"field": "v", "type": "quantitative", "scale": {"domain": [0, 1000], "nice": false}, "axis": {"orient": "right", "title": null, "grid": false, "values": [0, 91, 182, 273, 364, 455, 546, 637, 728, 819, 910, 1000], "format": ".2f", "labelFont": "Roboto", "labelFontSize": 13, "labelColor": "#333333", "domainColor": "#b5bcc3", "domainWidth": 2, "tickColor": "#b5bcc3", "tickWidth": 1.5, "tickSize": 4, "labelPadding": 6}}
  },
  "layer": [
    {"data": {"name": "c500"}, "mark": {"type": "line", "strokeWidth": 2}, "encoding": {"color": {"datum": "500", "scale": {"domain": ["obv", "hope", "cost", "price", "500", "reg", "dev+std", "dev-std"], "range": ["#333333", "#1ad66a", "#e6197c", "#1e88e5", "#c8c8c8", "#dd6408", "#c8cdd2", "#9aa3ab"]}}}},
    {"data": {"name": "devp"}, "mark": {"type": "line", "strokeWidth": 1.2, "interpolate": "monotone"}, "encoding": {"color": {"datum": "dev+std"}}},
    {"data": {"name": "devm"}, "mark": {"type": "line", "strokeWidth": 1.2, "interpolate": "monotone"}, "encoding": {"color": {"datum": "dev-std"}}},
    {"data": {"name": "hope"}, "mark": {"type": "line", "strokeWidth": 1.2}, "encoding": {"color": {"datum": "hope"}}},
    {"data": {"name": "cost"}, "mark": {"type": "line", "strokeWidth": 1.2}, "encoding": {"color": {"datum": "cost"}}},
    {"data": {"name": "obv"}, "mark": {"type": "line", "strokeWidth": 1.2}, "encoding": {"color": {"datum": "obv"}}},
    {"data": {"name": "price"}, "mark": {"type": "line", "strokeWidth": 1.2}, "encoding": {"color": {"datum": "price"}}},
    {"data": {"name": "reg"}, "mark": {"type": "line", "strokeWidth": 2.5, "interpolate": "monotone"}, "encoding": {"color": {"datum": "reg"}}}
  ]
}
